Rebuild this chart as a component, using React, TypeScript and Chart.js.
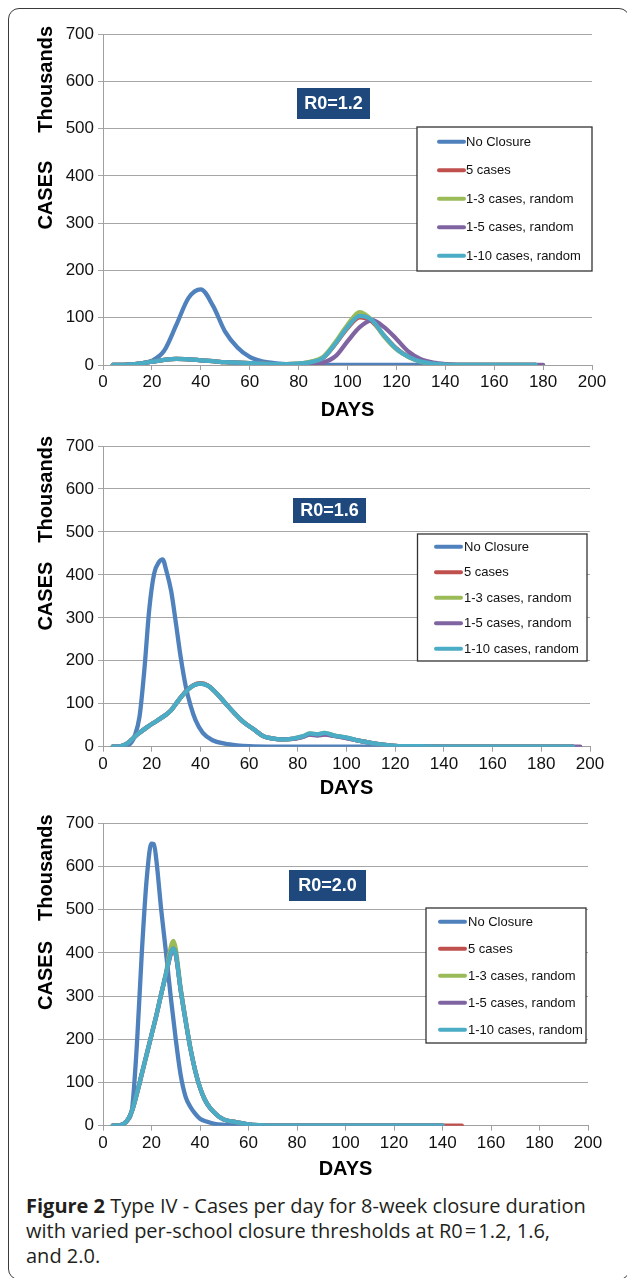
import React, { useEffect, useRef } from "react";
import { Chart, registerables } from "chart.js";

Chart.register(...registerables);
Chart.defaults.font.family = "'Liberation Sans', Arial, sans-serif";

// ---------- shared ----------
const SERIES_LABELS = ["No Closure", "5 cases", "1-3 cases, random", "1-5 cases, random", "1-10 cases, random"];
const SERIES_COLORS = ["#4F81BD", "#C0504D", "#9BBB59", "#8064A2", "#4BACC6"];
const X_MIN = 0;
const X_MAX = 200;
const X_STEP = 20;
const Y_MIN = 0;
const Y_MAX = 700;
const Y_STEP = 100;
const X_TITLE = "DAYS";
const Y_TITLE_LOWER = "CASES";
const Y_TITLE_UPPER = "Thousands";

// ---------- Panel 1: R0 = 1.2 ----------
const P1_LABEL = "R0=1.2";
const P1_DAYS = [4, 10, 15, 20, 25, 30, 35, 40, 45, 50, 55, 60, 65, 70, 75, 80, 85, 90, 95, 100, 105, 110, 115, 120, 125, 130, 135, 140, 150, 160, 170, 177, 180];
const P1_NO_CLOSURE = [0, 1, 3, 9, 30, 85, 142, 160, 125, 70, 37, 17, 8, 4, 2, 1, 0, 0, 0, 0, 0, 0, 0, 0, 0, 0, 0, 0, 0, 0, 0, 0, null];
const P1_FIVE = [0, 1, 3, 7, 11, 13, 12, 10, 8, 6, 5, 4, 3, 2, 2, 3, 6, 15, 44, 78, 101, 92, 62, 35, 17, 7, 3, 1, 0, 0, 0, 0, null];
const P1_ONE_THREE = [0, 1, 3, 7, 11, 13, 12, 10, 8, 6, 5, 4, 3, 2, 2, 3, 7, 17, 48, 85, 112, 95, 60, 33, 17, 7, 3, 1, 0, 0, 0, 0, null];
const P1_ONE_FIVE = [0, 1, 3, 7, 11, 13, 12, 10, 8, 6, 5, 4, 3, 2, 2, 2, 2, 5, 18, 50, 80, 95, 80, 55, 28, 12, 5, 2, 0, 0, 0, 0, 0];
const P1_ONE_TEN = [0, 1, 3, 7, 11, 13, 12, 10, 8, 6, 5, 4, 3, 2, 2, 3, 6, 15, 45, 80, 104, 95, 62, 34, 17, 7, 3, 1, 0, 0, 0, 0, null];

// ---------- Panel 2: R0 = 1.6 ----------
const P2_LABEL = "R0=1.6";
const P2_NO_CLOSURE_DAYS = [4, 8, 11, 13, 15, 17, 19, 21, 23, 24.5, 26, 28, 30, 32, 34, 36, 38, 41, 45, 50, 55, 60, 70, 80, 100, 140, 193];
const P2_NO_CLOSURE = [0, 1, 6, 25, 70, 180, 320, 403, 430, 436, 410, 362, 285, 205, 140, 95, 62, 32, 15, 7, 3, 1, 0, 0, 0, 0, 0];
const P2_DAYS = [4, 7, 10, 14, 18, 22, 26, 28, 31, 34, 37, 40, 43, 46, 50, 54, 58, 62, 66, 70, 74, 78, 82, 85, 88, 91, 95, 100, 105, 110, 115, 120, 130, 140, 160, 180, 193, 196];
const P2_FIVE = [0, 1, 8, 28, 45, 60, 75, 85, 108, 129, 143, 148, 143, 128, 103, 78, 56, 40, 24, 19, 17, 18, 23, 29, 27, 29, 25, 20, 14, 9, 5, 2, 1, 0, 0, 0, 0, null];
const P2_ONE_THREE = [0, 1, 8, 28, 45, 60, 75, 85, 108, 128, 142, 147, 142, 128, 103, 78, 56, 40, 24, 19, 17, 19, 24, 31, 29, 32, 26, 21, 14, 9, 5, 2, 1, 0, 0, 0, 0, null];
const P2_ONE_FIVE = [0, 1, 8, 28, 45, 60, 75, 85, 108, 128, 142, 147, 142, 128, 103, 78, 56, 40, 24, 19, 17, 18, 23, 28, 26, 28, 25, 20, 14, 9, 5, 2, 1, 0, 0, 0, 0, 0];
const P2_ONE_TEN = [0, 1, 8, 28, 45, 60, 75, 85, 108, 128, 142, 147, 142, 128, 103, 78, 56, 40, 24, 19, 17, 19, 24, 31, 29, 32, 26, 21, 14, 9, 5, 2, 1, 0, 0, 0, 0, null];

// ---------- Panel 3: R0 = 2.0 ----------
const P3_LABEL = "R0=2.0";
const P3_NO_CLOSURE_DAYS = [4, 7, 10, 12, 14, 16, 18, 20, 21, 22, 24, 26, 28, 30, 32, 34, 36, 38, 40, 43, 46, 50, 55, 60, 80, 100, 120, 140];
const P3_NO_CLOSURE = [0, 1, 12, 40, 190, 400, 570, 653, 652, 615, 500, 400, 295, 200, 118, 68, 44, 28, 16, 9, 4, 2, 1, 0, 0, 0, 0, 0];
const P3_DAYS = [4, 7, 10, 12, 14, 16, 18, 20, 22, 24, 26, 28, 29, 30, 32, 34, 36, 38, 40, 42, 44, 46, 48, 50, 55, 60, 65, 70, 80, 100, 120, 140, 148];
const P3_FIVE = [0, 1, 12, 35, 75, 120, 165, 210, 255, 305, 350, 398, 405, 395, 315, 245, 180, 128, 88, 60, 42, 30, 20, 14, 8, 3, 1, 0, 0, 0, 0, 0, 0];
const P3_ONE_THREE = [0, 1, 12, 35, 75, 120, 165, 210, 255, 305, 355, 415, 428, 410, 320, 248, 182, 128, 88, 60, 42, 30, 20, 14, 8, 3, 1, 0, 0, 0, 0, 0, null];
const P3_ONE_FIVE = [0, 1, 12, 35, 75, 120, 165, 210, 255, 305, 352, 400, 410, 398, 315, 245, 180, 128, 88, 60, 42, 30, 20, 14, 8, 3, 1, 0, 0, 0, 0, 0, null];
const P3_ONE_TEN = [0, 1, 12, 35, 75, 120, 165, 210, 255, 305, 352, 400, 410, 398, 315, 245, 180, 128, 88, 60, 42, 30, 20, 14, 8, 3, 1, 0, 0, 0, 0, 0, null];

// ---------- layout (pixels, not data) ----------
type Layout = {
  top: number; height: number; padTop: number; padRight: number; padBottom: number; xH: number;
  titleRise: number; titleGap: number;
  legend: { x: number; y: number; w: number; h: number; firstY: number; step: number; sx: number; sw: number; tx: number };
  badge: { x: number; y: number; w: number; h: number };
};

const PANELS: { label: string; series: [number[], (number | null)[]][]; layout: Layout }[] = [
  {
    label: P1_LABEL,
    series: [[P1_DAYS, P1_NO_CLOSURE], [P1_DAYS, P1_FIVE], [P1_DAYS, P1_ONE_THREE], [P1_DAYS, P1_ONE_FIVE], [P1_DAYS, P1_ONE_TEN]],
    layout: {
      top: 0, height: 425, padTop: 34, padRight: 35, padBottom: 3, xH: 57, titleRise: 8, titleGap: 28,
      legend: { x: 417, y: 127, w: 175, h: 144, firstY: 141.7, step: 28.5, sx: 437, sw: 29, tx: 466 },
      badge: { x: 297, y: 88, w: 73, h: 31 },
    },
  },
  {
    label: P2_LABEL,
    series: [[P2_NO_CLOSURE_DAYS, P2_NO_CLOSURE], [P2_DAYS, P2_FIVE], [P2_DAYS, P2_ONE_THREE], [P2_DAYS, P2_ONE_FIVE], [P2_DAYS, P2_ONE_TEN]],
    layout: {
      top: 425, height: 380, padTop: 21, padRight: 37, padBottom: 5, xH: 53.3, titleRise: 10, titleGap: 19,
      legend: { x: 417.5, y: 109, w: 169.5, h: 127, firstY: 121.7, step: 25.5, sx: 434, sw: 29, tx: 464 },
      badge: { x: 293, y: 73, w: 73, h: 25 },
    },
  },
  {
    label: P3_LABEL,
    series: [[P3_NO_CLOSURE_DAYS, P3_NO_CLOSURE], [P3_DAYS, P3_FIVE], [P3_DAYS, P3_ONE_THREE], [P3_DAYS, P3_ONE_FIVE], [P3_DAYS, P3_ONE_TEN]],
    layout: {
      top: 805, height: 380, padTop: 18.3, padRight: 39, padBottom: 4, xH: 55.3, titleRise: 9, titleGap: 20,
      legend: { x: 426, y: 103, w: 160, h: 135, firstY: 116.7, step: 27, sx: 438, sw: 29, tx: 468 },
      badge: { x: 289, y: 65, w: 77, h: 31 },
    },
  },
];

const GRID_COLOR = "#A6A6A6";
const AXIS_COLOR = "#A0A0A0";
const BADGE_COLOR = "#1F497D";

const overlayPlugin = {
  id: "overlay",
  afterDraw(chart: any, _args: any, opts: any) {
    const { ctx, chartArea } = chart;
    const L: Layout = opts.layout;
    ctx.save();
    // rotated y title
    ctx.font = "bold 20px 'Liberation Sans', Arial, sans-serif";
    ctx.fillStyle = "#000";
    ctx.textBaseline = "middle";
    ctx.textAlign = "right";
    ctx.translate(46, chartArea.top - L.titleRise);
    ctx.rotate(-Math.PI / 2);
    ctx.fillText(Y_TITLE_UPPER, 0, 0);
    const wU = ctx.measureText(Y_TITLE_UPPER).width;
    ctx.fillText(Y_TITLE_LOWER, -(wU + L.titleGap), 0);
    ctx.restore();

    // badge
    ctx.save();
    const b = L.badge;
    ctx.fillStyle = BADGE_COLOR;
    ctx.fillRect(b.x, b.y, b.w, b.h);
    ctx.fillStyle = "#fff";
    ctx.font = "bold 18px 'Liberation Sans', Arial, sans-serif";
    ctx.textAlign = "center";
    ctx.textBaseline = "middle";
    ctx.fillText(opts.label, b.x + b.w / 2, b.y + b.h / 2 + 1);
    ctx.restore();

    // legend
    ctx.save();
    const lg = L.legend;
    ctx.fillStyle = "#fff";
    ctx.fillRect(lg.x, lg.y, lg.w, lg.h);
    ctx.strokeStyle = "#333";
    ctx.lineWidth = 1.3;
    ctx.strokeRect(lg.x, lg.y, lg.w, lg.h);
    ctx.font = "13px 'Liberation Sans', Arial, sans-serif";
    ctx.textBaseline = "middle";
    ctx.textAlign = "left";
    chart.data.datasets.forEach((ds: any, i: number) => {
      const y = lg.firstY + i * lg.step;
      ctx.strokeStyle = ds.borderColor;
      ctx.lineWidth = 4;
      ctx.lineCap = "round";
      ctx.beginPath();
      ctx.moveTo(lg.sx + 2, y);
      ctx.lineTo(lg.sx + lg.sw - 2, y);
      ctx.stroke();
      ctx.fillStyle = "#111";
      ctx.fillText(ds.label, lg.tx, y + 0.5);
    });
    ctx.restore();
  },
};

function toPoints(days: number[], vals: (number | null)[]) {
  const out: { x: number; y: number }[] = [];
  days.forEach((d, i) => {
    const v = vals[i];
    if (v !== null && v !== undefined) out.push({ x: d, y: v });
  });
  return out;
}

function Panel({ cfg }: { cfg: (typeof PANELS)[number] }) {
  const ref = useRef<HTMLCanvasElement>(null);
  useEffect(() => {
    const L = cfg.layout;
    const chart = new Chart(ref.current as HTMLCanvasElement, {
      type: "line",
      data: {
        datasets: cfg.series.map(([d, v], i) => ({
          label: SERIES_LABELS[i],
          data: toPoints(d, v),
          borderColor: SERIES_COLORS[i],
          backgroundColor: SERIES_COLORS[i],
          borderWidth: 4.3,
          pointRadius: 0,
          fill: false,
          cubicInterpolationMode: "monotone",
          borderCapStyle: "round",
          borderJoinStyle: "round",
          order: SERIES_LABELS.length - 1 - i,
        })),
      },
      options: {
        responsive: false,
        animation: false,
        devicePixelRatio: 1,
        events: [],
        layout: { padding: { left: 0, top: L.padTop, right: L.padRight, bottom: L.padBottom } },
        plugins: {
          legend: { display: false },
          tooltip: { enabled: false },
          overlay: { layout: L, label: cfg.label },
        } as any,
        scales: {
          x: {
            type: "linear",
            min: X_MIN,
            max: X_MAX,
            ticks: { stepSize: X_STEP, color: "#111", font: { size: 17 }, padding: 2, maxRotation: 0, autoSkip: false },
            grid: { drawOnChartArea: false, drawTicks: true, tickLength: 5, color: AXIS_COLOR },
            border: { display: true, color: AXIS_COLOR, width: 1 },
            title: { display: true, text: X_TITLE, color: "#000", font: { size: 20, weight: "bold" }, padding: 0 },
            afterFit: (s: any) => { s.height = L.xH; },
          },
          y: {
            type: "linear",
            min: Y_MIN,
            max: Y_MAX,
            ticks: { stepSize: Y_STEP, color: "#111", font: { size: 17 }, padding: 4 },
            grid: { color: GRID_COLOR, tickLength: 5 },
            border: { display: true, color: AXIS_COLOR, width: 1 },
            afterFit: (s: any) => { s.width = 103; },
          },
        },
      } as any,
      plugins: [overlayPlugin],
    });
    return () => chart.destroy();
  }, [cfg]);
  return (
    <canvas
      ref={ref}
      width={627}
      height={cfg.layout.height}
      style={{ position: "absolute", left: 0, top: cfg.layout.top, width: 627, height: cfg.layout.height, display: "block" }}
    />
  );
}

export default function App() {
  return (
    <div style={{ position: "absolute", left: 0, top: 0, width: 627, height: 1278, overflow: "hidden", background: "#fff" }}>
      <div
        style={{
          position: "absolute", left: 8, top: 8, width: 622, height: 1272, boxSizing: "border-box",
          border: "1.5px solid #3a3a3a", borderRadius: 11,
        }}
      />
      {PANELS.map((p) => (
        <Panel key={p.label} cfg={p} />
      ))}
      <div
        style={{
          position: "absolute", left: 26, top: 1193, width: 600, fontFamily: "'Open Sans', 'Noto Sans', sans-serif",
          fontSize: 20, lineHeight: "25px", color: "#231F20", whiteSpace: "nowrap",
        }}
      >
        <b>Figure 2</b> Type IV - Cases per day for 8-week closure duration
        <br />
        with varied per-school closure thresholds at R0&#8202;=&#8202;1.2, 1.6,
        <br />
        and 2.0.
      </div>
    </div>
  );
}
